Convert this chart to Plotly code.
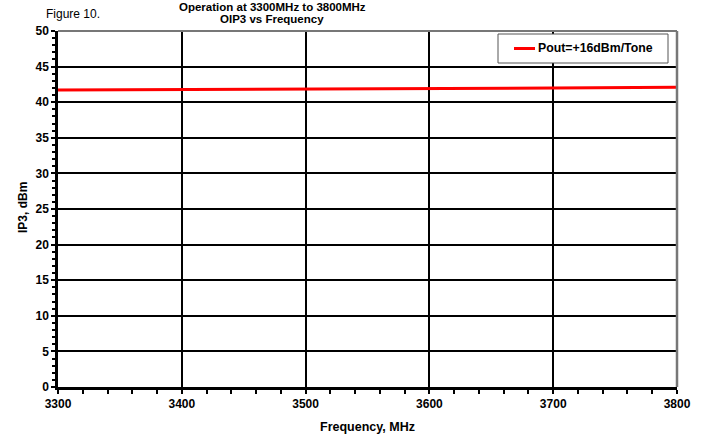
import plotly.graph_objects as go

# OIP3 measured across the band, two-tone at +16 dBm/tone
freq_mhz = [3300, 3400, 3500, 3600, 3700, 3800]
oip3_dbm = [41.7, 41.75, 41.85, 41.95, 42.0, 42.1]
series_name = "Pout=+16dBm/Tone"

x_ticks = [3300, 3400, 3500, 3600, 3700, 3800]
y_ticks = [0, 5, 10, 15, 20, 25, 30, 35, 40, 45, 50]

FONT = "Arial, Liberation Sans, sans-serif"
W, H = 707, 437
ML, MR, MT, MB = 58, 30, 31, 50
PW, PH = W - ML - MR, H - MT - MB


def px_x(px):
    return (px - ML) / PW


def px_y(py):
    return (H - MB - py) / PH


RED = "#ff0000"

fig = go.Figure()
fig.add_trace(go.Scatter(
    x=freq_mhz, y=oip3_dbm, mode="lines", name=series_name,
    line=dict(color=RED, width=3), showlegend=False,
))

axis_common = dict(
    showline=True, linecolor="black", linewidth=2.5,
    showgrid=True, gridcolor="black", gridwidth=1.5,
    ticks="outside", ticklen=4, tickwidth=2, tickcolor="black",
    tickfont=dict(family=FONT, size=12, color="black", weight="bold"),
    zeroline=False, mirror=False, automargin=False,
)

fig.update_xaxes(
    range=[3300, 3800], tickvals=x_ticks,
    minor=dict(dtick=20, ticks="outside", ticklen=4, tickwidth=2,
               tickcolor="black", showgrid=False),
    **axis_common,
)
fig.update_yaxes(
    range=[0, 50], tickvals=y_ticks,
    minor=dict(dtick=1, ticks="outside", ticklen=3, tickwidth=2,
               tickcolor="black", showgrid=False),
    **axis_common,
)

label_font = dict(family=FONT, size=12.5, color="black", weight="bold")
fig.add_annotation(text="Frequency, MHz", xref="paper", yref="paper",
                   x=0.5, y=px_y(427), xanchor="center", yanchor="middle",
                   showarrow=False, font=label_font)
fig.add_annotation(text="IP3, dBm", xref="paper", yref="paper",
                   x=px_x(23), y=px_y(208), xanchor="center", yanchor="middle",
                   textangle=-90, showarrow=False,
                   font=dict(family=FONT, size=12, color="black", weight="bold"))

# grey frame on the top and right edges of the plot area
fig.add_shape(type="line", xref="paper", yref="paper", x0=0, x1=1, y0=1, y1=1,
              line=dict(color="#777777", width=2), layer="above")
fig.add_shape(type="line", xref="paper", yref="paper", x0=1, x1=1, y0=0, y1=1,
              line=dict(color="#777777", width=2.5), layer="above")

# legend box drawn by hand so the line sample stays short
fig.add_shape(type="rect", xref="paper", yref="paper",
              x0=px_x(498), x1=px_x(668), y0=px_y(63), y1=px_y(34),
              line=dict(color="#555555", width=1), fillcolor="white", layer="above")
fig.add_shape(type="line", xref="paper", yref="paper",
              x0=px_x(514), x1=px_x(535), y0=px_y(48.5), y1=px_y(48.5),
              line=dict(color=RED, width=3), layer="above")
fig.add_annotation(text=series_name, xref="paper", yref="paper",
                   x=px_x(536), y=px_y(48.5), xanchor="left", yanchor="middle",
                   showarrow=False,
                   font=dict(family=FONT, size=12.3, color="black", weight="bold"))

title_font = dict(family=FONT, size=11.5, color="black", weight="bold")
fig.add_annotation(text="Operation at 3300MHz to 3800MHz", xref="paper", yref="paper",
                   x=px_x(272), y=1, yshift=MT - 7, xanchor="center",
                   yanchor="middle", showarrow=False, font=title_font)
fig.add_annotation(text="OIP3 vs Frequency", xref="paper", yref="paper",
                   x=px_x(272), y=1, yshift=MT - 19, xanchor="center",
                   yanchor="middle", showarrow=False, font=title_font)
fig.add_annotation(text="Figure 10.", xref="paper", yref="paper",
                   x=px_x(44), y=1, yshift=MT - 14, xanchor="left",
                   yanchor="middle", showarrow=False,
                   font=dict(family=FONT, size=12, color="black"))

fig.update_layout(
    width=W, height=H,
    margin=dict(l=ML, r=MR, t=MT, b=MB),
    paper_bgcolor="white", plot_bgcolor="white",
    showlegend=False,
)

fig.write_html("out.html")
